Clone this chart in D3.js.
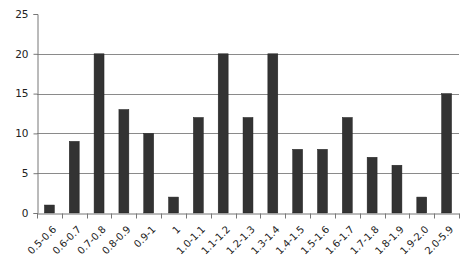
<!DOCTYPE html>
<html>
<head>
<meta charset="utf-8">
<script src="https://cdn.jsdelivr.net/npm/d3@7"></script>
<style>
  body { margin: 0; background: #fff; }
  svg { display: block; }
  .tick text { font-family: "DejaVu Sans", Verdana, sans-serif; fill: #222; }
</style>
</head>
<body>
<div id="chart"></div>
<script>
var categories = ['0.5-0.6','0.6-0.7','0.7-0.8','0.8-0.9','0.9-1','1','1.0-1.1','1.1-1.2','1.2-1.3',
                  '1.3-1.4','1.4-1.5','1.5-1.6','1.6-1.7','1.7-1.8','1.8-1.9','1.9-2.0','2.0-5.9'];
var counts = [1, 9, 20, 13, 10, 2, 12, 20, 12, 20, 8, 8, 12, 7, 6, 2, 15];
var yTicks = [0, 5, 10, 15, 20, 25];

var width = 476, height = 270;
var margin = {top: 14, right: 17, bottom: 57, left: 37};

var svg = d3.select('#chart').append('svg')
    .attr('width', width)
    .attr('height', height);

var x = d3.scaleBand()
    .domain(categories)
    .range([margin.left, width - margin.right])
    .paddingInner(0.6)
    .paddingOuter(0.3);

var y = d3.scaleLinear()
    .domain([0, 25])
    .range([height - margin.bottom, margin.top]);

// gridlines (no line at the top value)
svg.append('g')
    .selectAll('line')
    .data(yTicks.filter(function(d){ return d > 0 && d < 25; }))
    .enter().append('line')
    .attr('x1', margin.left)
    .attr('x2', width - margin.right)
    .attr('y1', function(d){ return Math.round(y(d)) + 0.5; })
    .attr('y2', function(d){ return Math.round(y(d)) + 0.5; })
    .style('stroke', '#8a8a8a')
    .style('stroke-width', 1);

// bars
svg.append('g')
    .selectAll('rect')
    .data(counts)
    .enter().append('rect')
    .attr('x', function(d, i){ return x(categories[i]); })
    .attr('y', function(d){ return y(d); })
    .attr('width', x.bandwidth())
    .attr('height', function(d){ return y(0) - y(d); })
    .style('fill', '#333')
    .style('stroke', '#222')
    .style('stroke-width', 0.5);

// y axis
var yAxis = svg.append('g')
    .attr('transform', 'translate(' + (margin.left + 0.5) + ',0)')
    .call(d3.axisLeft(y).tickValues(yTicks).tickSize(4).tickPadding(5));
yAxis.selectAll('text').style('font-size', '10.5px');

// x axis with ticks on band boundaries
var xAxis = svg.append('g')
    .attr('transform', 'translate(0,' + (Math.round(y(0)) + 0.5) + ')')
    .call(d3.axisBottom(x).tickSize(0).tickFormat(''));
var step = x.step();
var x0 = x.range()[0];
xAxis.selectAll('.boundary')
    .data(d3.range(categories.length + 1))
    .enter().append('line')
    .attr('class', 'boundary')
    .attr('x1', function(i){ return Math.round(x0 + i * step) + 0.5; })
    .attr('x2', function(i){ return Math.round(x0 + i * step) + 0.5; })
    .attr('y1', 0)
    .attr('y2', 5)
    .style('stroke', '#777');

xAxis.selectAll('.lbl')
    .data(categories)
    .enter().append('text')
    .attr('class', 'lbl')
    .attr('transform', function(d){
        return 'translate(' + (x(d) + x.bandwidth() / 2 + 5) + ',14) rotate(-45)';
    })
    .attr('text-anchor', 'end')
    .attr('dy', '0.35em')
    .style('font-family', '"DejaVu Sans", Verdana, sans-serif')
    .style('font-size', '10px')
    .style('fill', '#222')
    .text(function(d){ return d; });

svg.selectAll('.domain').style('stroke', '#777');
svg.selectAll('.tick line').style('stroke', '#777');
</script>
</body>
</html>
